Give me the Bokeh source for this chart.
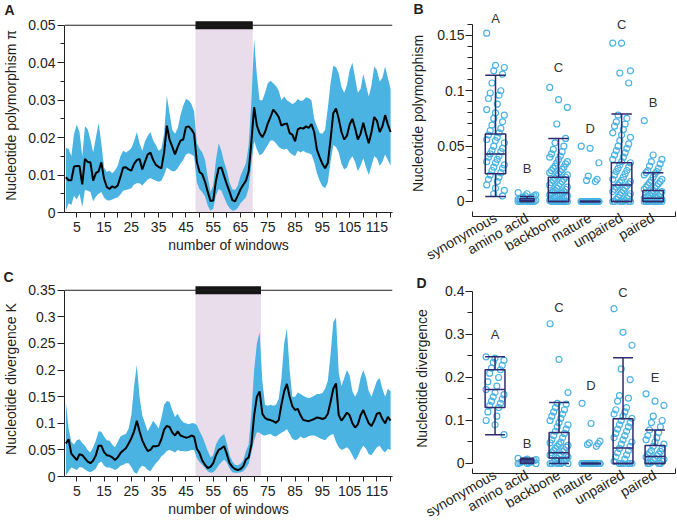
import math
from bokeh.plotting import figure
from bokeh.models import Range1d, FixedTicker, Span, BoxAnnotation, Title
from bokeh.layouts import row, column
from bokeh.embed import file_html
from bokeh.resources import INLINE
from bokeh.core.properties import value

FONT = "Liberation Sans"
BLUE = "#4AB3E2"
PINK = "#E9DDEB"
NAVY = "#2E2B6E"
INK = "#231F20"

# ---------------- data: sliding windows ----------------
windows = list(range(1, 121))

pi_mean = [0.0094, 0.0086, 0.0086, 0.0123, 0.0124, 0.0124, 0.0075, 0.0143, 0.0135, 0.0134,
           0.0085, 0.0105, 0.0110, 0.0134, 0.0090, 0.0068, 0.0063, 0.0070, 0.0066, 0.0072,
           0.0095, 0.0120, 0.0121, 0.0115, 0.0112, 0.0130, 0.0140, 0.0143, 0.0115, 0.0135,
           0.0155, 0.0160, 0.0140, 0.0127, 0.0122, 0.0118, 0.0160, 0.0232, 0.0195, 0.0175,
           0.0155, 0.0175, 0.0192, 0.0195, 0.0228, 0.0230, 0.0222, 0.0210, 0.0135, 0.0108,
           0.0102, 0.0082, 0.0055, 0.0031, 0.0032, 0.0085, 0.0118, 0.0120, 0.0097, 0.0075,
           0.0055, 0.0033, 0.0030, 0.0045, 0.0062, 0.0074, 0.0085, 0.0110, 0.0190, 0.0281,
           0.0232, 0.0212, 0.0201, 0.0215, 0.0238, 0.0255, 0.0275, 0.0266, 0.0255, 0.0232,
           0.0236, 0.0238, 0.0212, 0.0208, 0.0190, 0.0222, 0.0226, 0.0224, 0.0230, 0.0226,
           0.0236, 0.0215, 0.0168, 0.0148, 0.0130, 0.0118, 0.0132, 0.0195, 0.0265, 0.0278,
           0.0250, 0.0215, 0.0195, 0.0205, 0.0235, 0.0250, 0.0225, 0.0195, 0.0210, 0.0240,
           0.0210, 0.0185, 0.0215, 0.0255, 0.0245, 0.0215, 0.0230, 0.0260, 0.0235, 0.0215]
pi_upper = [0.0172, 0.0170, 0.0150, 0.0210, 0.0235, 0.0215, 0.0150, 0.0230, 0.0222, 0.0195,
            0.0160, 0.0200, 0.0238, 0.0185, 0.0120, 0.0108, 0.0112, 0.0105, 0.0112, 0.0125,
            0.0150, 0.0165, 0.0160, 0.0165, 0.0172, 0.0190, 0.0215, 0.0185, 0.0165, 0.0190,
            0.0205, 0.0215, 0.0192, 0.0180, 0.0165, 0.0170, 0.0210, 0.0312, 0.0265, 0.0220,
            0.0210, 0.0225, 0.0260, 0.0285, 0.0303, 0.0300, 0.0290, 0.0270, 0.0185, 0.0170,
            0.0160, 0.0140, 0.0095, 0.0055, 0.0072, 0.0140, 0.0185, 0.0165, 0.0135, 0.0112,
            0.0080, 0.0062, 0.0060, 0.0072, 0.0098, 0.0115, 0.0132, 0.0180, 0.0300, 0.0463,
            0.0366, 0.0300, 0.0300, 0.0320, 0.0345, 0.0352, 0.0345, 0.0338, 0.0325, 0.0300,
            0.0310, 0.0300, 0.0295, 0.0290, 0.0294, 0.0303, 0.0298, 0.0300, 0.0308, 0.0305,
            0.0300, 0.0250, 0.0230, 0.0212, 0.0210, 0.0220, 0.0280, 0.0345, 0.0392, 0.0388,
            0.0372, 0.0335, 0.0320, 0.0340, 0.0380, 0.0400, 0.0360, 0.0320, 0.0330, 0.0370,
            0.0340, 0.0310, 0.0340, 0.0390, 0.0380, 0.0350, 0.0360, 0.0390, 0.0360, 0.0330]
pi_lower = [0.0005, 0.0025, 0.0020, 0.0045, 0.0035, 0.0050, 0.0015, 0.0060, 0.0058, 0.0055,
            0.0030, 0.0042, 0.0050, 0.0055, 0.0040, 0.0033, 0.0032, 0.0035, 0.0038, 0.0040,
            0.0048, 0.0058, 0.0060, 0.0062, 0.0065, 0.0075, 0.0078, 0.0078, 0.0072, 0.0080,
            0.0088, 0.0092, 0.0088, 0.0085, 0.0082, 0.0085, 0.0100, 0.0120, 0.0115, 0.0110,
            0.0110, 0.0118, 0.0130, 0.0140, 0.0155, 0.0158, 0.0155, 0.0150, 0.0080, 0.0062,
            0.0054, 0.0043, 0.0018, 0.0005, 0.0010, 0.0045, 0.0063, 0.0058, 0.0040, 0.0023,
            0.0012, 0.0005, 0.0006, 0.0012, 0.0025, 0.0033, 0.0041, 0.0065, 0.0130, 0.0190,
            0.0168, 0.0153, 0.0157, 0.0168, 0.0180, 0.0192, 0.0192, 0.0185, 0.0175, 0.0170,
            0.0168, 0.0170, 0.0160, 0.0155, 0.0150, 0.0165, 0.0160, 0.0165, 0.0160, 0.0158,
            0.0155, 0.0135, 0.0105, 0.0085, 0.0070, 0.0065, 0.0080, 0.0135, 0.0180, 0.0175,
            0.0160, 0.0130, 0.0115, 0.0120, 0.0140, 0.0150, 0.0135, 0.0110, 0.0125, 0.0145,
            0.0120, 0.0100, 0.0125, 0.0150, 0.0145, 0.0125, 0.0135, 0.0155, 0.0140, 0.0125]

k_mean = [0.062, 0.070, 0.043, 0.037, 0.031, 0.042, 0.040, 0.034, 0.028, 0.025,
          0.030, 0.040, 0.058, 0.058, 0.046, 0.040, 0.039, 0.036, 0.031, 0.036,
          0.044, 0.049, 0.053, 0.062, 0.072, 0.085, 0.105, 0.085, 0.068, 0.057,
          0.048, 0.050, 0.057, 0.057, 0.058, 0.070, 0.088, 0.095, 0.093, 0.083,
          0.077, 0.085, 0.077, 0.075, 0.073, 0.074, 0.077, 0.075, 0.052, 0.044,
          0.030, 0.022, 0.016, 0.018, 0.025, 0.040, 0.050, 0.053, 0.057, 0.042,
          0.025, 0.018, 0.014, 0.012, 0.014, 0.019, 0.032, 0.036, 0.060, 0.115,
          0.150, 0.160, 0.118, 0.110, 0.107, 0.106, 0.104, 0.101, 0.106, 0.135,
          0.160, 0.174, 0.150, 0.132, 0.125, 0.127, 0.115, 0.106, 0.105, 0.104,
          0.106, 0.108, 0.111, 0.110, 0.108, 0.110, 0.118, 0.140, 0.165, 0.175,
          0.115, 0.105, 0.112, 0.120, 0.115, 0.100, 0.092, 0.098, 0.115, 0.125,
          0.112, 0.100, 0.095, 0.105, 0.118, 0.120, 0.108, 0.100, 0.112, 0.105]
k_upper = [0.140, 0.090, 0.065, 0.060, 0.068, 0.070, 0.063, 0.058, 0.050, 0.045,
           0.055, 0.068, 0.085, 0.084, 0.075, 0.068, 0.067, 0.060, 0.055, 0.065,
           0.075, 0.078, 0.080, 0.090, 0.115, 0.170, 0.210, 0.150, 0.115, 0.100,
           0.085, 0.095, 0.105, 0.098, 0.090, 0.110, 0.135, 0.142, 0.140, 0.125,
           0.112, 0.118, 0.108, 0.102, 0.100, 0.098, 0.100, 0.100, 0.097, 0.085,
           0.075, 0.062, 0.048, 0.036, 0.040, 0.060, 0.070, 0.076, 0.080, 0.062,
           0.040, 0.028, 0.022, 0.021, 0.024, 0.030, 0.048, 0.060, 0.120, 0.200,
           0.250, 0.271, 0.180, 0.135, 0.133, 0.135, 0.133, 0.135, 0.146, 0.185,
           0.250, 0.278, 0.200, 0.150, 0.150, 0.158, 0.155, 0.152, 0.149, 0.147,
           0.149, 0.152, 0.155, 0.155, 0.157, 0.165, 0.180, 0.230, 0.290, 0.299,
           0.195, 0.170, 0.185, 0.200, 0.190, 0.160, 0.150, 0.160, 0.185, 0.200,
           0.185, 0.160, 0.150, 0.165, 0.180, 0.185, 0.165, 0.150, 0.165, 0.160]
k_lower = [0.002, 0.010, 0.017, 0.015, 0.012, 0.018, 0.017, 0.013, 0.010, 0.008,
           0.011, 0.015, 0.025, 0.028, 0.020, 0.017, 0.017, 0.015, 0.012, 0.015,
           0.020, 0.022, 0.025, 0.025, 0.018, 0.008, 0.005, 0.015, 0.020, 0.018,
           0.012, 0.010, 0.018, 0.025, 0.030, 0.038, 0.042, 0.048, 0.050, 0.048,
           0.045, 0.050, 0.048, 0.048, 0.047, 0.048, 0.050, 0.050, 0.035, 0.027,
           0.022, 0.016, 0.010, 0.007, 0.008, 0.013, 0.021, 0.027, 0.032, 0.026,
           0.015, 0.008, 0.007, 0.007, 0.008, 0.010, 0.016, 0.024, 0.045, 0.068,
           0.083, 0.082, 0.078, 0.077, 0.079, 0.080, 0.076, 0.075, 0.079, 0.082,
           0.085, 0.089, 0.080, 0.071, 0.068, 0.070, 0.075, 0.072, 0.073, 0.076,
           0.077, 0.077, 0.075, 0.072, 0.070, 0.068, 0.074, 0.078, 0.080, 0.065,
           0.055, 0.050, 0.052, 0.055, 0.050, 0.040, 0.030, 0.038, 0.050, 0.058,
           0.052, 0.042, 0.040, 0.048, 0.055, 0.058, 0.050, 0.045, 0.052, 0.050]

mature_region_A = (48.5, 69.5)
mature_region_C = (48.5, 72.5)

# ---------------- data: categories ----------------
categories = ["synonymous", "amino acid", "backbone", "mature", "unpaired", "paired"]

# polymorphism (panel B)
poly_points = [
    [0.152, 0.123, 0.121, 0.118, 0.115, 0.107, 0.100, 0.098, 0.096, 0.093, 0.088, 0.083,
     0.080, 0.078, 0.075, 0.072, 0.069, 0.066, 0.064, 0.062, 0.060, 0.058, 0.056, 0.055,
     0.053, 0.050, 0.048, 0.046, 0.045, 0.043, 0.041, 0.040, 0.038, 0.036, 0.035, 0.033,
     0.031, 0.030, 0.028, 0.026, 0.024, 0.022, 0.020, 0.018, 0.015, 0.012, 0.010, 0.007, 0.005],
    [0.008, 0.007, 0.006, 0.005, 0.005, 0.004, 0.004, 0.003, 0.003, 0.002, 0.002, 0.002,
     0.001, 0.001, 0.001, 0.0, 0.0, 0.0, 0.0, 0.0, 0.0, 0.0, 0.0, 0.0],
    [0.103, 0.092, 0.085, 0.070, 0.057, 0.053, 0.050, 0.047, 0.045, 0.043, 0.041, 0.040,
     0.038, 0.036, 0.035, 0.034, 0.032, 0.031, 0.030, 0.029, 0.028, 0.027, 0.026, 0.025,
     0.024, 0.023, 0.022, 0.021, 0.020, 0.019, 0.018, 0.017, 0.016, 0.015, 0.014, 0.013,
     0.012, 0.011, 0.010, 0.009, 0.009, 0.008, 0.008, 0.007, 0.006, 0.006, 0.005, 0.005,
     0.004, 0.004, 0.003, 0.003, 0.002, 0.002, 0.001, 0.001, 0.0, 0.0, 0.0, 0.0, 0.0,
     0.0, 0.0, 0.0, 0.0, 0.0],
    [0.050, 0.048, 0.035, 0.023, 0.020, 0.019, 0.018, 0.0, 0.0, 0.0, 0.0, 0.0, 0.0, 0.0,
     0.0, 0.0, 0.0, 0.0, 0.0, 0.0, 0.0, 0.0, 0.0, 0.0, 0.0, 0.0, 0.0, 0.0, 0.0, 0.0],
    [0.143, 0.143, 0.118, 0.116, 0.107, 0.078, 0.075, 0.072, 0.070, 0.068, 0.065, 0.062,
     0.060, 0.058, 0.055, 0.052, 0.050, 0.048, 0.046, 0.044, 0.042, 0.040, 0.038, 0.036,
     0.035, 0.033, 0.031, 0.030, 0.028, 0.027, 0.025, 0.024, 0.022, 0.020, 0.019, 0.018,
     0.017, 0.016, 0.015, 0.014, 0.013, 0.012, 0.011, 0.010, 0.009, 0.008, 0.007, 0.006,
     0.005, 0.004, 0.003, 0.002, 0.001, 0.0, 0.0, 0.0, 0.0, 0.0, 0.0, 0.0],
    [0.073, 0.042, 0.038, 0.036, 0.034, 0.032, 0.030, 0.028, 0.027, 0.026, 0.025, 0.024,
     0.022, 0.020, 0.019, 0.018, 0.017, 0.016, 0.015, 0.014, 0.013, 0.012, 0.011, 0.010,
     0.009, 0.008, 0.007, 0.006, 0.005, 0.005, 0.004, 0.004, 0.003, 0.003, 0.002, 0.002,
     0.001, 0.001, 0.0, 0.0, 0.0, 0.0, 0.0, 0.0, 0.0, 0.0, 0.0],
]
poly_lower_whisker = [0.0045, 0.0, 0.0, 0.0, 0.0, 0.0]
poly_q1 = [0.025, 0.0, 0.0, 0.0, 0.0, 0.0]
poly_median = [0.043, 0.001, 0.008, 0.0, 0.015, 0.003]
poly_q3 = [0.061, 0.0025, 0.022, 0.0, 0.035, 0.010]
poly_upper_whisker = [0.114, 0.0045, 0.057, 0.0, 0.079, 0.026]
poly_groups = ["A", "B", "C", "D", "C", "B"]
poly_group_y = [0.165, 0.030, 0.121, 0.066, 0.160, 0.089]

# divergence (panel D)
div_points = [
    [0.248, 0.245, 0.240, 0.235, 0.228, 0.222, 0.218, 0.210, 0.200, 0.190, 0.180, 0.172,
     0.165, 0.160, 0.155, 0.150, 0.145, 0.140, 0.135, 0.130, 0.120, 0.110, 0.100, 0.090, 0.067],
    [0.012, 0.010, 0.009, 0.008, 0.007, 0.006, 0.005, 0.004, 0.003, 0.002, 0.001, 0.0, 0.0, 0.0],
    [0.325, 0.242, 0.165, 0.140, 0.138, 0.130, 0.125, 0.120, 0.115, 0.110, 0.105, 0.100,
     0.095, 0.090, 0.085, 0.080, 0.075, 0.070, 0.065, 0.060, 0.055, 0.050, 0.048, 0.045,
     0.042, 0.040, 0.038, 0.035, 0.032, 0.030, 0.028, 0.025, 0.022, 0.020, 0.018, 0.015,
     0.012, 0.010, 0.008, 0.006, 0.004, 0.002, 0.0, 0.0, 0.0, 0.0, 0.0, 0.0],
    [0.140, 0.093, 0.052, 0.048, 0.046, 0.044, 0.040, 0.0, 0.0, 0.0, 0.0, 0.0, 0.0, 0.0,
     0.0, 0.0, 0.0, 0.0, 0.0, 0.0, 0.0, 0.0, 0.0, 0.0, 0.0, 0.0],
    [0.360, 0.305, 0.275, 0.220, 0.195, 0.158, 0.152, 0.145, 0.130, 0.125, 0.120, 0.115,
     0.110, 0.105, 0.100, 0.095, 0.090, 0.085, 0.080, 0.075, 0.070, 0.065, 0.060, 0.055,
     0.050, 0.045, 0.040, 0.035, 0.030, 0.025, 0.020, 0.015, 0.010, 0.005, 0.0, 0.0, 0.0,
     0.0, 0.0, 0.0],
    [0.162, 0.145, 0.135, 0.110, 0.100, 0.095, 0.085, 0.078, 0.072, 0.065, 0.060, 0.055,
     0.050, 0.045, 0.040, 0.035, 0.030, 0.028, 0.025, 0.022, 0.020, 0.018, 0.015, 0.012,
     0.010, 0.008, 0.005, 0.003, 0.0, 0.0, 0.0, 0.0],
]
div_lower_whisker = [0.067, 0.0, 0.0, 0.0, 0.0, 0.0]
div_q1 = [0.130, 0.001, 0.013, 0.0, 0.0, 0.0]
div_median = [0.172, 0.006, 0.025, 0.0, 0.036, 0.016]
div_q3 = [0.218, 0.010, 0.072, 0.0, 0.104, 0.042]
div_upper_whisker = [0.248, 0.012, 0.142, 0.0, 0.246, 0.078]
div_groups = ["A", "B", "C", "D", "C", "E"]
div_group_y = [0.300, 0.046, 0.363, 0.181, 0.398, 0.200]


def style_axis(ax, size="14px"):
    ax.axis_line_color = INK
    ax.axis_line_width = 1
    ax.major_tick_line_color = INK
    ax.minor_tick_line_color = INK
    ax.major_label_text_font = FONT
    ax.major_label_text_font_size = size
    ax.major_label_text_color = INK
    ax.axis_label_text_font = FONT
    ax.axis_label_text_font_size = size
    ax.axis_label_text_font_style = "normal"
    ax.axis_label_text_color = INK


def panel_letter(p, txt, offset, standoff):
    p.add_layout(Title(text=txt, align="left", vertical_align="top", offset=offset,
                       standoff=standoff, text_font=FONT, text_font_size="14px",
                       text_font_style="bold", text_color=INK), "above")


def window_panel(mean, lo, hi, region, yaxis_top, yrange_top, yticks, yminor, ylabel,
                 letter, letter_offset, letter_standoff, height, mb_top, mb_bottom):
    p = figure(width=400, height=height, x_range=Range1d(0.5, 120.7),
               y_range=Range1d(0, yrange_top), output_backend="svg", toolbar_location=None,
               min_border_left=63, min_border_right=8, min_border_top=mb_top,
               min_border_bottom=mb_bottom)
    p.outline_line_color = None
    p.grid.visible = False
    p.background_fill_color = None
    p.add_layout(BoxAnnotation(left=region[0], right=region[1], bottom=0, top=yaxis_top,
                               fill_color=PINK, fill_alpha=1, line_color=None, level="underlay"))
    p.varea(x=windows, y1=lo, y2=hi, fill_color=BLUE, fill_alpha=1)
    p.line(windows, mean, line_color="black", line_width=2)
    p.add_layout(Span(location=yaxis_top, dimension="width", line_color=INK, line_width=1))
    p.segment(x0=[region[0]], x1=[region[1]], y0=[yaxis_top], y1=[yaxis_top],
              line_color="#151515", line_width=8)

    xa = p.xaxis[0]
    style_axis(xa)
    xa.ticker = FixedTicker(ticks=list(range(5, 120, 10)), minor_ticks=list(range(10, 121, 10)))
    xa.major_tick_out = 5
    xa.major_tick_in = 0
    xa.minor_tick_out = 5
    xa.minor_tick_in = 0
    xa.major_label_standoff = 4
    xa.axis_label = "number of windows"
    xa.axis_label_standoff = 2

    ya = p.yaxis[0]
    style_axis(ya)
    ya.ticker = FixedTicker(ticks=yticks, minor_ticks=yminor)
    ya.bounds = (0, yaxis_top)
    ya.major_tick_out = 7
    ya.major_tick_in = 0
    ya.minor_tick_out = 4
    ya.minor_tick_in = 0
    ya.major_label_standoff = 2
    ya.major_label_overrides = {0: "0"}
    ya.axis_label = ylabel
    ya.axis_label_standoff = 6
    panel_letter(p, letter, letter_offset, letter_standoff)
    return p


def box_panel(points, lw, q1, med, q3, uw, groups, group_y, xr, yr, yaxis_top, yticks,
              yminor, ylabel, letter, letter_offset, letter_standoff, height, mb_left,
              mb_right, mb_top, mb_bottom, ylabel_standoff, widths):
    p = figure(width=277, height=height, x_range=Range1d(*xr), y_range=Range1d(*yr),
               output_backend="svg", toolbar_location=None, min_border_left=mb_left,
               min_border_right=mb_right, min_border_top=mb_top, min_border_bottom=mb_bottom)
    p.outline_line_color = None
    p.grid.visible = False
    p.background_fill_color = None

    pos = list(range(1, len(categories) + 1))
    xs, ys = [], []
    for i, vals in enumerate(points):
        for k, v in enumerate(vals):
            # deterministic spread of the dots around the category centre
            off = ((k * 5) % 11) / 10.0 - 0.5
            xs.append(pos[i] + off * 0.56)
            ys.append(v)
    p.scatter(xs, ys, size=6, marker="circle", fill_color=None, line_color=BLUE, line_width=1.2)

    left = [c - w / 2 for c, w in zip(pos, widths)]
    right = [c + w / 2 for c, w in zip(pos, widths)]
    p.quad(left=left, right=right, bottom=q1, top=q3, fill_color=None,
           line_color=NAVY, line_width=1.5)
    p.segment(x0=pos, x1=pos, y0=q3, y1=uw, line_color=NAVY, line_width=1.5)
    p.segment(x0=pos, x1=pos, y0=q1, y1=lw, line_color=NAVY, line_width=1.5)
    p.segment(x0=left, x1=right, y0=uw, y1=uw, line_color=NAVY, line_width=1.5)
    p.segment(x0=left, x1=right, y0=lw, y1=lw, line_color=NAVY, line_width=1.5)
    p.segment(x0=left, x1=right, y0=med, y1=med, line_color=NAVY, line_width=1.5)
    p.text(x=pos, y=group_y, text=groups, text_align="center", text_baseline="middle",
           text_font=value(FONT), text_font_size=value("13px"), text_color="#333333")

    xa = p.xaxis[0]
    style_axis(xa)
    xa.ticker = FixedTicker(ticks=pos, minor_ticks=[xr[0] + 0.01, xr[1] - 0.01])
    xa.major_label_overrides = {c: name for c, name in zip(pos, categories)}
    xa.major_label_orientation = math.pi / 6
    xa.major_tick_line_color = None
    xa.major_tick_out = 0
    xa.major_tick_in = 0
    xa.minor_tick_in = 5
    xa.minor_tick_out = 0
    xa.major_label_standoff = 0

    ya = p.yaxis[0]
    style_axis(ya)
    ya.ticker = FixedTicker(ticks=yticks, minor_ticks=yminor)
    ya.bounds = (0, yaxis_top)
    ya.major_tick_out = 7
    ya.major_tick_in = 0
    ya.minor_tick_out = 5
    ya.minor_tick_in = 0
    ya.major_label_standoff = 1
    ya.major_label_overrides = {0: "0"}
    ya.axis_label = ylabel
    ya.axis_label_standoff = ylabel_standoff
    panel_letter(p, letter, letter_offset, letter_standoff)
    return p


# left column: A (265 px) over C (265 px); right column: B (273 px) over D (257 px)
pA = window_panel(pi_mean, pi_lower, pi_upper, mature_region_A, 0.05, 0.0518,
                  [0, 0.01, 0.02, 0.03, 0.04, 0.05],
                  [0.005, 0.015, 0.025, 0.035, 0.045],
                  "Nucleotide polymorphism π", "A", -60, -2, 265, 18, 53)
pC = window_panel(k_mean, k_lower, k_upper, mature_region_C, 0.35, 0.3665,
                  [0, 0.05, 0.10, 0.15, 0.20, 0.25, 0.30, 0.35], [],
                  "Nucleotide divergence K", "C", -61, -10, 265, 16, 54)

pB = box_panel(poly_points, poly_lower_whisker, poly_q1, poly_median, poly_q3,
               poly_upper_whisker, poly_groups, poly_group_y, (0.27, 6.71),
               (-0.01355, 0.1725), 0.16, [0, 0.05, 0.10, 0.15],
               [0.01, 0.02, 0.03, 0.04, 0.06, 0.07, 0.08, 0.09, 0.11, 0.12, 0.13, 0.14, 0.16],
               "Nucleotide polymorphism", "B", -59, -16, 273, 72, 2, 10, 57, 8,
               [0.65, 0.45, 0.65, 0.65, 0.65, 0.65])
pD = box_panel(div_points, div_lower_whisker, div_q1, div_median, div_q3,
               div_upper_whisker, div_groups, div_group_y, (0.295, 6.64),
               (-0.02326, 0.4186), 0.4, [0, 0.1, 0.2, 0.3, 0.4],
               [0.05, 0.15, 0.25, 0.35],
               "Nucleotide divergence", "D", -56, -18, 257, 68, 1, 10, 57, 12,
               [0.62, 0.42, 0.62, 0.62, 0.62, 0.62])

layout = row(column(pA, pC), column(pB, pD))
open("out.html", "w").write(file_html(layout, INLINE))
